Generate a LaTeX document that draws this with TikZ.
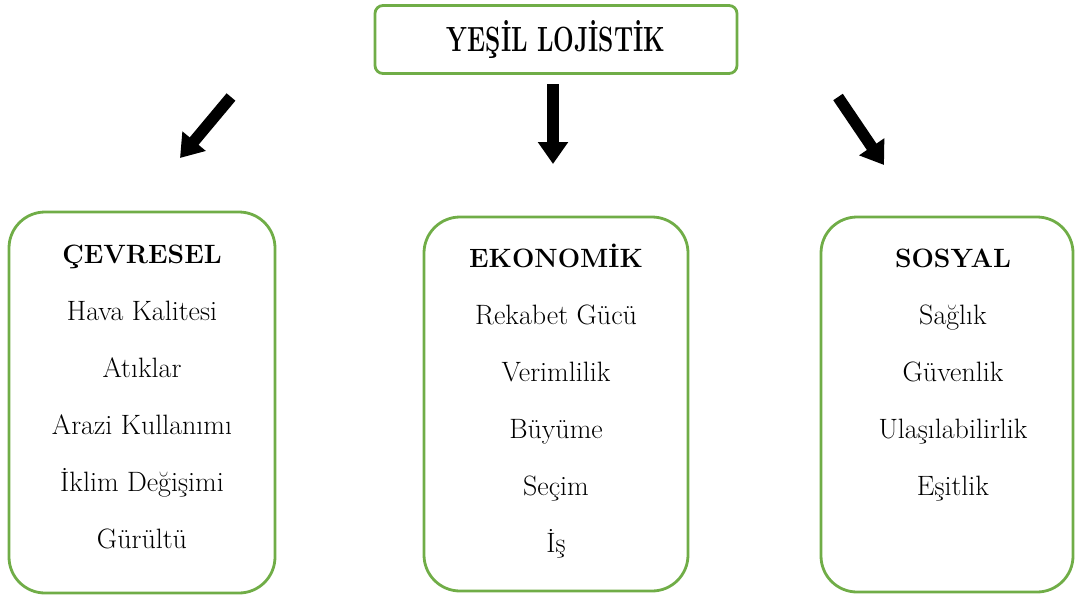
\documentclass[tikz,border=0pt]{standalone}
\usepackage{fontspec}
\usepackage{graphicx}
\usetikzlibrary{arrows.meta,positioning}
\definecolor{ylGreen}{RGB}{112,173,71}
\newcommand{\baslik}[1]{{\fontsize{26.5}{30}\selectfont\bfseries #1}}

\begin{document}
\begin{tikzpicture}[x=1pt, y=-1pt, font=\fontsize{28}{32}\selectfont]
\tikzstyle{kutu}=[draw=ylGreen, line width=2.8pt, rounded corners=36pt, inner sep=0pt]
\tikzstyle{ust}=[draw=ylGreen, line width=2.8pt, rounded corners=8pt, minimum width=362pt, minimum height=68pt, inner sep=0pt]
\tikzstyle{ok}=[line width=11.5pt, -{Triangle[length=22pt,width=29pt]}]
\tikzstyle{madde}=[inner sep=0pt, anchor=base]
\useasboundingbox (0,0) rectangle (1075,598);

% ana baslik
\node[ust] (yesil) at (556,39.5) {\scalebox{0.7}[1]{\fontsize{35}{35}\selectfont\bfseries YEŞİL LOJİSTİK}};

% oklar
\coordinate (ok1a) at (231,97);
\coordinate (ok1b) at (180,158);
\coordinate (ok2a) at (553,84);
\coordinate (ok2b) at (553,164);
\coordinate (ok3a) at (838,97);
\coordinate (ok3b) at (884,165);
\draw[ok] (ok1a) -- (ok1b);
\draw[ok] (ok2a) -- (ok2b);
\draw[ok] (ok3a) -- (ok3b);

% kutular
\node[kutu, minimum width=266pt, minimum height=381pt] (cevre) at (142,402.5) {};
\node[kutu, minimum width=264pt, minimum height=374pt] (ekonomi) at (556,404) {};
\node[kutu, minimum width=252pt, minimum height=375pt] (sosyal) at (947,404.5) {};

% cevresel
\node[madde] (c0) at (142,263) {\baslik{ÇEVRESEL}};
\foreach \t [count=\i] in {Hava Kalitesi, Atıklar, Arazi Kullanımı, İklim Değişimi, Gürültü}
  \node[madde] (c\i) at (142,263+57*\i) {\t};

% ekonomik
\node[madde] (e0) at (556,267) {\baslik{EKONOMİK}};
\foreach \t [count=\i] in {Rekabet Gücü, Verimlilik, Büyüme, Seçim, İş}
  \node[madde] (e\i) at (556,267+57*\i) {\t};

% sosyal
\node[madde] (s0) at (953,267) {\baslik{SOSYAL}};
\foreach \t [count=\i] in {Sağlık, Güvenlik, Ulaşılabilirlik, Eşitlik}
  \node[madde] (s\i) at (953,267+57*\i) {\t};
\end{tikzpicture}
\end{document}
